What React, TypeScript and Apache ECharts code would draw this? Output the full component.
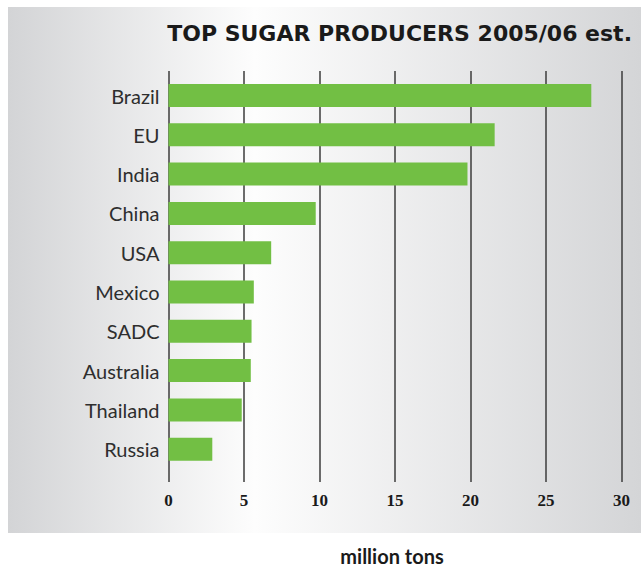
import React, { useEffect, useRef } from "react";
import * as echarts from "echarts";

const categories = ["Brazil", "EU", "India", "China", "USA", "Mexico", "SADC", "Australia", "Thailand", "Russia"];
const production = [28.0, 21.6, 19.8, 9.75, 6.8, 5.65, 5.5, 5.45, 4.85, 2.9];
const xTicks = [0, 5, 10, 15, 20, 25, 30];
const titleText = "TOP SUGAR PRODUCERS 2005/06 est.";
const unitText = "million tons";

export default function App() {
  const ref = useRef<HTMLDivElement>(null);
  useEffect(() => {
    document.body.style.margin = "0";
    const chart = echarts.init(ref.current!, null, { renderer: "svg" });
    const left = 168.5;
    const right = 641 - 621.5;
    chart.setOption({
      animation: false,
      graphic: [
        {
          type: "rect",
          z: -10,
          shape: { x: 8, y: 7, width: 633, height: 526 },
          style: {
            fill: new echarts.graphic.LinearGradient(0, 0, 1, 0, [
              { offset: 0, color: "#d3d4d6" },
              { offset: 0.39, color: "#fdfdfd" },
              { offset: 1, color: "#d4d5d7" },
            ]),
          },
          silent: true,
        },
        {
          type: "text",
          x: 632,
          y: 33,
          style: {
            text: titleText,
            align: "right",
            verticalAlign: "middle",
            font: "bold 22px 'DejaVu Sans'",
            fill: "#1a1a1a",
          },
        },
        {
          type: "text",
          x: 392,
          y: 556,
          style: {
            text: unitText,
            align: "center",
            verticalAlign: "middle",
            font: "bold 20px Lato",
            fill: "#1a1a1a",
          },
        },
      ],
      grid: [
        { left, right, top: 71, bottom: 568 - 482 },
        { left, right, top: 75.85, height: 393 },
      ],
      xAxis: [
        {
          gridIndex: 0,
          type: "value",
          min: 0,
          max: 30,
          interval: 5,
          axisLine: { show: false },
          axisTick: { show: false },
          splitLine: { show: true, lineStyle: { color: "#3c3c3c", width: 1.5 } },
          axisLabel: {
            margin: 10,
            color: "#1a1a1a",
            fontWeight: "bold",
            fontSize: 17,
            fontFamily: "Liberation Serif",
            formatter: (v: number) => (xTicks.includes(v) ? String(v) : ""),
          },
        },
        {
          gridIndex: 1,
          type: "value",
          min: 0,
          max: 30,
          show: false,
          splitLine: { show: false },
        },
      ],
      yAxis: [
        {
          gridIndex: 0,
          type: "value",
          show: false,
          splitLine: { show: false },
        },
        {
          gridIndex: 1,
          type: "category",
          inverse: true,
          data: categories,
          axisLine: { show: false },
          axisTick: { show: false },
          axisLabel: {
            margin: 9,
            color: "#2e2e2e",
            fontSize: 20,
            fontFamily: "Lato",
          },
        },
      ],
      series: [
        {
          type: "bar",
          xAxisIndex: 1,
          yAxisIndex: 1,
          data: production,
          barWidth: 23,
          itemStyle: { color: "#72bf44" },
          z: 5,
        },
      ],
    });
    return () => chart.dispose();
  }, []);
  return <div ref={ref} style={{ width: 641, height: 568 }} />;
}
